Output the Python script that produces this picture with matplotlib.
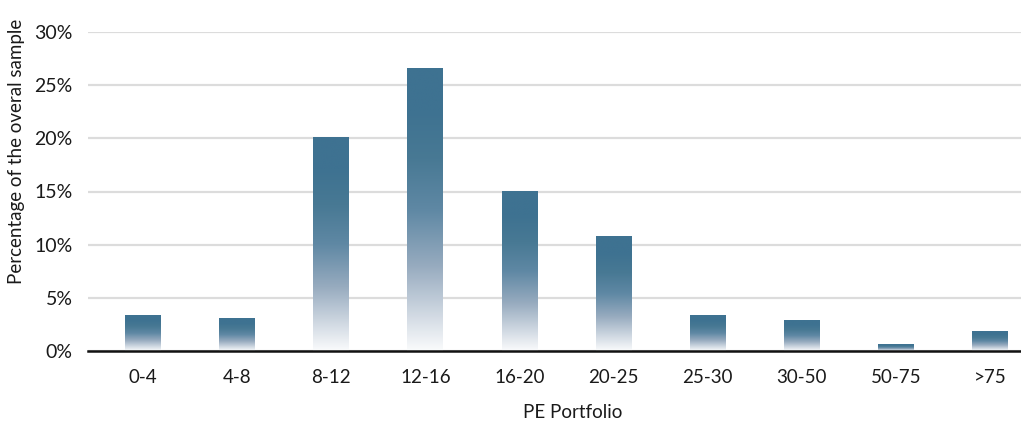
import numpy as np
import matplotlib
matplotlib.use("Agg")
import matplotlib.pyplot as plt
from matplotlib.colors import LinearSegmentedColormap
from matplotlib.ticker import FuncFormatter

categories = ["0-4", "4-8", "8-12", "12-16", "16-20", "20-25", "25-30", "30-50", "50-75", ">75"]
shares = [3.3, 3.1, 20.1, 26.6, 15.0, 10.8, 3.3, 2.9, 0.6, 1.8]
y_ticks = [0, 5, 10, 15, 20, 25, 30]

plt.rcParams["font.family"] = ["Lato", "DejaVu Sans"]

bar_color = "#3e7291"
# vertical fade: white at the base, solid colour over the upper part of each bar
cmap = LinearSegmentedColormap.from_list(
    "fade",
    [(0.0, "#fafbfc"), (0.12, "#d3dbe4"), (0.3, "#97abbf"), (0.5, "#5f88a4"),
     (0.68, "#487994"), (0.85, bar_color), (1.0, bar_color)],
)

fig = plt.figure(figsize=(10.21, 4.26), dpi=100)
ax = fig.add_axes([88 / 1021, 75 / 426, 1 - 88 / 1021, (351 - 32) / 426])

width = 0.38
x = np.arange(len(categories))
grad = np.linspace(0, 1, 256).reshape(-1, 1)
for xi, v in zip(x, shares):
    ax.imshow(grad, extent=(xi - width / 2, xi + width / 2, 0, v), origin="lower",
              cmap=cmap, vmin=0, vmax=1, aspect="auto", zorder=3, interpolation="bilinear")

ax.set_xlim(-0.585, 9.33)
ax.set_ylim(0, 30)
ax.set_yticks(y_ticks)
ax.yaxis.set_major_formatter(FuncFormatter(lambda v, p: f"{v:.0f}%"))
ax.set_xticks(x)
ax.set_xticklabels(categories)

ax.grid(axis="y", color="#dcdcdc", linewidth=1.6, zorder=0)
ax.set_axisbelow(True)
for s in ["top", "right", "left"]:
    ax.spines[s].set_visible(False)
ax.spines["bottom"].set_color("#111111")
ax.spines["bottom"].set_linewidth(1.8)
ax.spines["bottom"].set_zorder(5)
ax.tick_params(axis="both", length=0, colors="#1a1a1a")
ax.tick_params(axis="x", pad=13, labelsize=13.5)
ax.tick_params(axis="y", pad=11, labelsize=14)

ax.set_xlabel("PE Portfolio", fontsize=13.5, color="#1a1a1a")
ax.xaxis.set_label_coords(0.52, -0.167)
ax.set_ylabel("Percentage of the overal sample", fontsize=13.5, color="#1a1a1a")
ax.yaxis.set_label_coords(-0.067, 0.627)

fig.savefig("out.png", dpi=100)
